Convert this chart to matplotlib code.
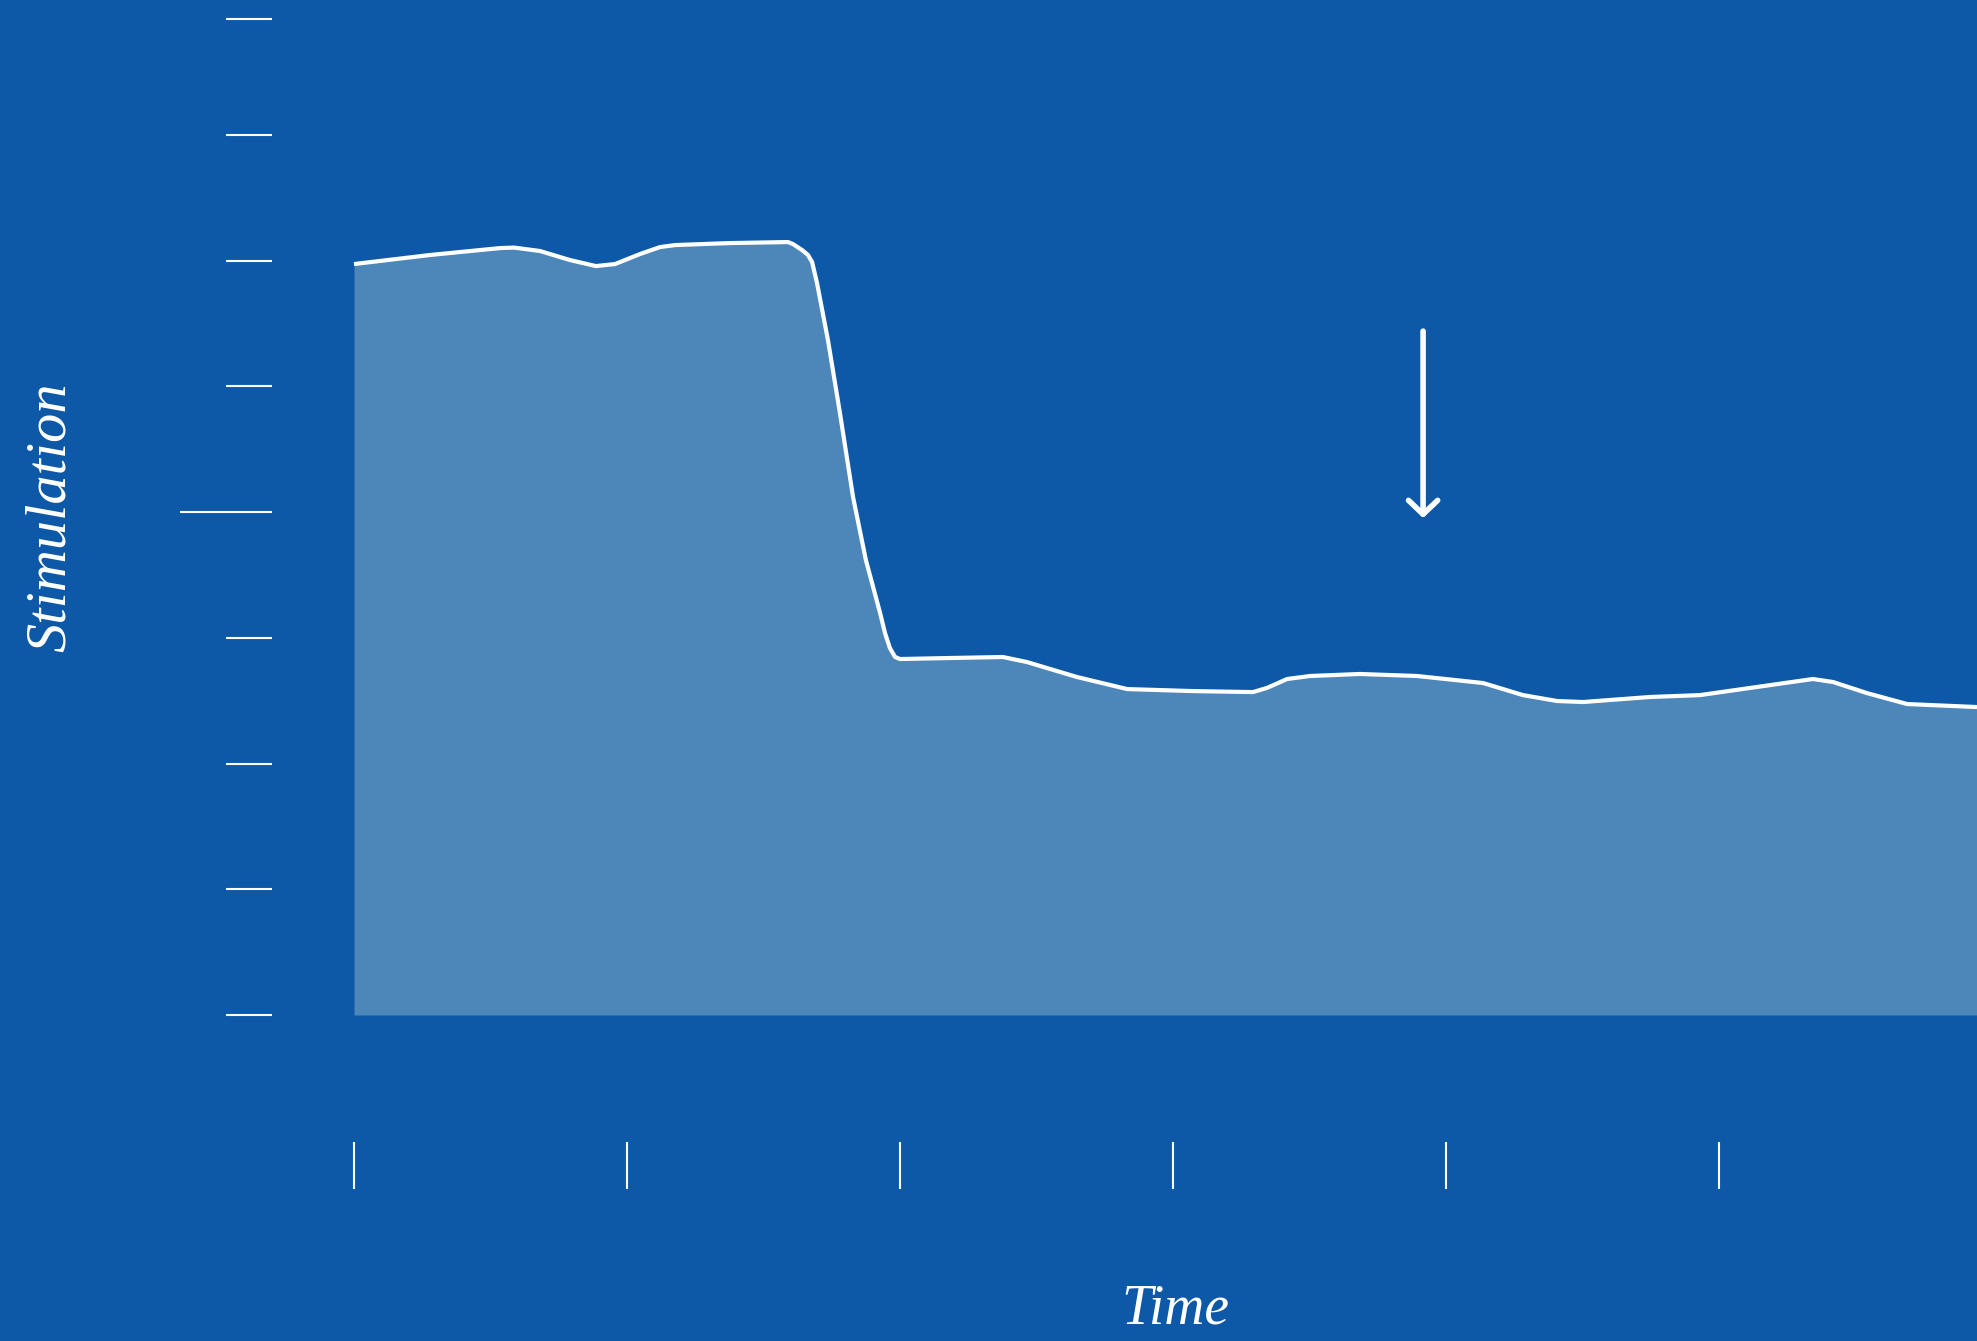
import matplotlib
matplotlib.use('Agg')
import matplotlib.pyplot as plt

# Colores
fondo = '#0D59A7'
relleno = '#4D86B9'
blanco = '#FFFFFF'

# Curva de estimulación a lo largo del tiempo
tiempo = [0.000, 0.278, 0.535, 0.586, 0.681, 0.791, 0.886, 0.956, 1.048, 1.121,
          1.176, 1.377, 1.590, 1.608, 1.641, 1.663, 1.678, 1.696, 1.736,
          1.780, 1.828, 1.875, 1.927, 1.945, 1.963, 1.982, 2.000,
          2.183, 2.377, 2.465, 2.648, 2.832, 3.073, 3.293, 3.344, 3.418, 3.502,
          3.685, 3.894, 4.136, 4.282, 4.407, 4.502, 4.747, 4.930, 5.114, 5.344,
          5.418, 5.542, 5.689, 5.945]
estimulacion = [5.972, 6.044, 6.099, 6.103, 6.076, 6.004, 5.956, 5.972, 6.052, 6.107,
                6.123, 6.139, 6.147, 6.131, 6.084, 6.044, 5.988, 5.821, 5.368,
                4.787, 4.119, 3.618, 3.197, 3.038, 2.918, 2.847, 2.831,
                2.839, 2.847, 2.807, 2.688, 2.592, 2.576, 2.568, 2.601, 2.672, 2.696,
                2.712, 2.696, 2.640, 2.544, 2.497, 2.489, 2.529, 2.544, 2.601, 2.672,
                2.648, 2.560, 2.473, 2.449]

# Marcas de los ejes
marcas_y = [0, 1, 2, 3, 5, 6, 7, 7.92]
marca_y_larga = [4]
marcas_x = [0, 1, 2, 3, 4, 5]

# Flecha
flecha_x = 3.916
flecha_desde = 5.439
flecha_hasta = 3.952

fig = plt.figure(figsize=(19.77, 13.41), dpi=100, facecolor=fondo)
ax = fig.add_axes([272 / 1977, 199 / 1341, 1 - 272 / 1977, 1 - 199 / 1341])
ax.set_facecolor(fondo)

ax.fill_between(tiempo, 0, estimulacion, color=relleno, linewidth=0)
ax.plot(tiempo, estimulacion, color=blanco, linewidth=3.0,
        solid_joinstyle='round', solid_capstyle='butt')

ax.annotate('', xy=(flecha_x, flecha_hasta), xytext=(flecha_x, flecha_desde),
            arrowprops=dict(arrowstyle='->,head_length=1.0,head_width=1.05',
                            color=blanco, lw=4, shrinkA=0, shrinkB=0))

ax.set_xlim(-0.3004, 5.945)
ax.set_ylim(-1.01, 8.072)

for s in ax.spines.values():
    s.set_visible(False)

ax.set_yticks(marcas_y)
ax.set_yticks(marca_y_larga, minor=True)
ax.set_xticks(marcas_x)
ax.tick_params(axis='y', which='major', direction='out', length=33, width=1.5,
               color=blanco, labelleft=False)
ax.tick_params(axis='y', which='minor', direction='out', length=66, width=1.5,
               color=blanco, labelleft=False)
ax.tick_params(axis='x', which='major', direction='out', length=34, width=1.5,
               color=blanco, labelbottom=False)
ax.tick_params(axis='x', which='minor', bottom=False)

# Etiquetas
fig.text(51 / 1977, 1 - 517 / 1341, 'Stimulation', rotation=90, ha='center', va='center',
         color=blanco, fontsize=42, family='Liberation Serif', style='italic')
fig.text(1175 / 1977, 18 / 1341, 'Time', ha='center', va='baseline',
         color=blanco, fontsize=40, family='Liberation Serif', style='italic')

plt.savefig('out.png', dpi=100, facecolor=fondo)
